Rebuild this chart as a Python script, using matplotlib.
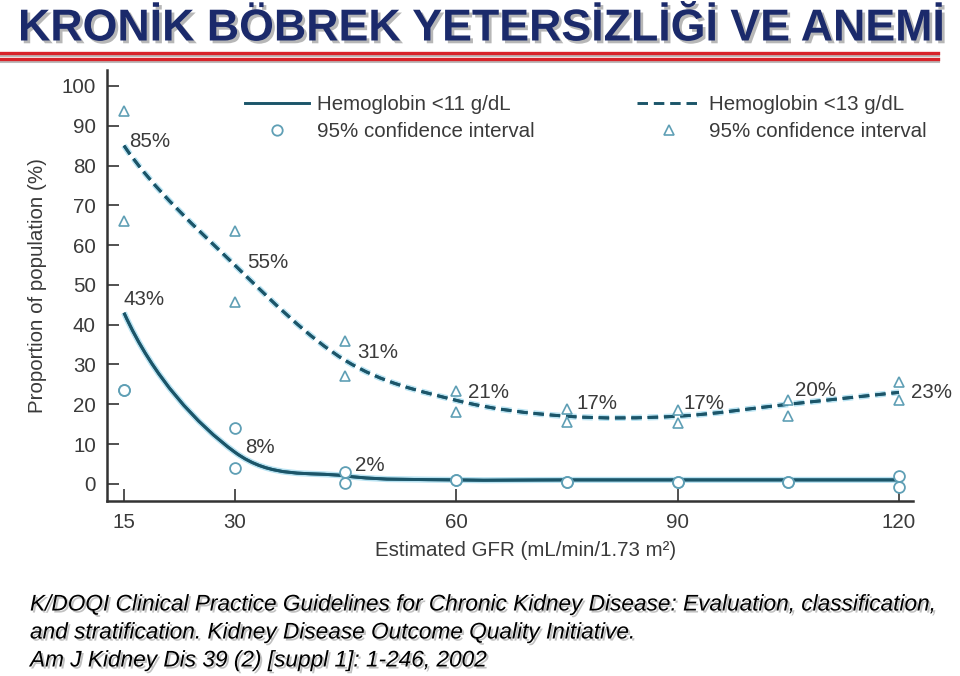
import matplotlib
matplotlib.use("Agg")
import matplotlib.pyplot as plt
import matplotlib.patheffects as pe
from matplotlib.path import Path
from matplotlib.patches import PathPatch
from matplotlib.lines import Line2D
import numpy as np

# ---------------- data ----------------
gfr = [15, 30, 45, 60, 75, 90, 105, 120]
hb11 = [43, 8, 2, 1, 1, 1, 1, 1]
hb13 = [85, 55, 31, 21, 17, 17, 20, 23]
hb11_ci_low = [23.5, 4, 0.3, 1, 0.5, 0.5, 0.5, -0.7]
hb11_ci_high = [23.5, 14, 3, 1, 0.5, 0.5, 0.5, 2]
hb13_ci_low = [66, 45.7, 27, 18, 15.6, 15.3, 17, 21]
hb13_ci_high = [93.7, 63.6, 36, 23.4, 18.8, 18.6, 21, 25.6]
hb11_labels = ["43%", "8%", "2%"]
hb13_labels = ["85%", "55%", "31%", "21%", "17%", "17%", "20%", "23%"]
xticks = [15, 30, 60, 90, 120]
yticks = [0, 10, 20, 30, 40, 50, 60, 70, 80, 90, 100]

title = "KRONİK BÖBREK YETERSİZLİĞİ VE ANEMİ"
citation = ["K/DOQI Clinical Practice Guidelines for Chronic Kidney Disease: Evaluation, classification,",
            "and stratification. Kidney Disease Outcome Quality Initiative.",
            "Am J Kidney Dis 39 (2) [suppl 1]: 1-246, 2002"]

# ---------------- style ----------------
sans = "Liberation Sans"
plt.rcParams['font.family'] = [sans, 'DejaVu Sans']
FS = 14.8

W, H = 960, 676
fig = plt.figure(figsize=(W / 100, H / 100), dpi=100)
fig.patch.set_facecolor("white")

def fx(px):
    return px / W

def fy(py):
    return 1 - py / H

ax = fig.add_axes([fx(107), fy(501), fx(913) - fx(107), fy(70) - fy(501)])
ax.set_xlim(12.7, 121.9)
ax.set_ylim(-4.3, 104)

line_col = "#1b5569"
mk_col = "#5f9fb5"
txt_col = "#3a3a3a"
dash = (0, (3.6, 2.0))

def smooth_path(xs, ys):
    pts = np.column_stack([xs, ys]).astype(float)
    n = len(pts)
    tang = np.zeros_like(pts)
    for i in range(1, n - 1):
        tang[i] = (pts[i + 1] - pts[i - 1]) / 2.0
    tang[0] = 2 * (pts[1] - pts[0]) - tang[1]
    tang[0][0] *= 0.8
    tang[-1] = 2 * (pts[-1] - pts[-2]) - tang[-2]
    verts = [pts[0]]
    codes = [Path.MOVETO]
    for i in range(n - 1):
        c1 = pts[i] + tang[i] / 3.0
        c2 = pts[i + 1] - tang[i + 1] / 3.0
        verts += [c1, c2, pts[i + 1]]
        codes += [Path.CURVE4] * 3
    return Path(verts, codes)

glow = [pe.withStroke(linewidth=4.4, foreground="#b9e3f2"), pe.Normal()]

p11 = PathPatch(smooth_path(gfr, hb11), facecolor="none", edgecolor=line_col,
                linewidth=2.1, zorder=3)
p11.set_path_effects(glow)
ax.add_patch(p11)
p13 = PathPatch(smooth_path(gfr, hb13), facecolor="none", edgecolor=line_col,
                linewidth=2.1, linestyle=dash, zorder=3)
p13.set_path_effects(glow)
ax.add_patch(p13)

ax.plot(gfr, hb11_ci_low, "o", ms=7.8, mfc="white", mec=mk_col, mew=1.3, ls="none", zorder=4)
ax.plot(gfr, hb11_ci_high, "o", ms=7.8, mfc="white", mec=mk_col, mew=1.3, ls="none", zorder=4)
ax.plot(gfr, hb13_ci_low, "^", ms=7.5, mfc="white", mec=mk_col, mew=1.2, ls="none", zorder=4)
ax.plot(gfr, hb13_ci_high, "^", ms=7.5, mfc="white", mec=mk_col, mew=1.2, ls="none", zorder=4)

# point labels (offsets in points, text centre-left)
off11 = [(0, 9.4), (7.2, 3.6), (7.2, 7.2)]
off13 = [(4, 3), (9, 1.5), (8.6, 5.8), (8.6, 5.8), (7.2, 9.4), (4.3, 9.4), (5, 10), (8.6, 0)]
for i, lab in enumerate(hb11_labels):
    ax.annotate(lab, (gfr[i], hb11[i]), xytext=off11[i], textcoords="offset points",
                ha="left", va="center", fontsize=FS, color=txt_col, zorder=5)
for i, lab in enumerate(hb13_labels):
    ax.annotate(lab, (gfr[i], hb13[i]), xytext=off13[i], textcoords="offset points",
                ha="left", va="center", fontsize=FS, color=txt_col, zorder=5)

for s in ["top", "right"]:
    ax.spines[s].set_visible(False)
for s in ["left", "bottom"]:
    ax.spines[s].set_linewidth(1.8)
    ax.spines[s].set_color("#333333")

ax.set_xticks(xticks)
ax.set_yticks(yticks)
ax.tick_params(direction="in", length=8.5, width=1.2, color="#333333",
               labelsize=FS, labelcolor=txt_col)
ax.tick_params(axis="x", pad=9)
ax.tick_params(axis="y", pad=8)

ax.set_xlabel("Estimated GFR (mL/min/1.73 m²)", fontsize=FS, color=txt_col)
ax.xaxis.set_label_coords((526 - 107) / (913 - 107), -0.093)
ax.set_ylabel("Proportion of population (%)", fontsize=FS, color=txt_col)
ax.yaxis.set_label_coords(-0.074, 0.5)

# legend
handles = [
    Line2D([], [], color=line_col, lw=2.1),
    Line2D([], [], ls="none", marker="o", ms=7.5, mfc="white", mec=mk_col, mew=1.3),
    Line2D([], [], color=line_col, lw=2.1, ls=dash),
    Line2D([], [], ls="none", marker="^", ms=7, mfc="white", mec=mk_col, mew=1.2),
]
labels = ["Hemoglobin <11 g/dL", "95% confidence interval",
          "Hemoglobin <13 g/dL", "95% confidence interval"]
leg = ax.legend(handles, labels, ncol=2, frameon=False, loc="upper left",
                bbox_to_anchor=(fx(245), fy(95)), bbox_transform=fig.transFigure,
                fontsize=FS, handlelength=3.1, handletextpad=0.4,
                columnspacing=5.0, labelspacing=0.4, borderaxespad=0, borderpad=0)
for t in leg.get_texts():
    t.set_color(txt_col)

# title
shadow = [pe.SimplePatchShadow(offset=(2, -2), shadow_rgbFace="#888888", alpha=0.6), pe.Normal()]
fig.text(fx(18), fy(29), title, fontsize=32.2, fontweight="bold", family=sans,
         color="#1b2a6b", va="center", ha="left", path_effects=shadow)

# red rules
for yy in (53, 59):
    fig.add_artist(Line2D([fx(0), fx(938)], [fy(yy + 1.5), fy(yy + 1.5)], color="#bbbbbb",
                          lw=2.2, transform=fig.transFigure))
    fig.add_artist(Line2D([fx(0), fx(938)], [fy(yy), fy(yy)], color="#d8232a",
                          lw=2.4, transform=fig.transFigure))

# citation
cshadow = [pe.SimplePatchShadow(offset=(1.5, -1.5), shadow_rgbFace="#999999", alpha=0.6), pe.Normal()]
for i, line in enumerate(citation):
    fig.text(fx(30), fy(604 + 28 * i), line, fontsize=16.3, style="italic", family=sans,
             color="black", va="center", ha="left", path_effects=cshadow)

fig.savefig("out.png", dpi=100, facecolor="white")
